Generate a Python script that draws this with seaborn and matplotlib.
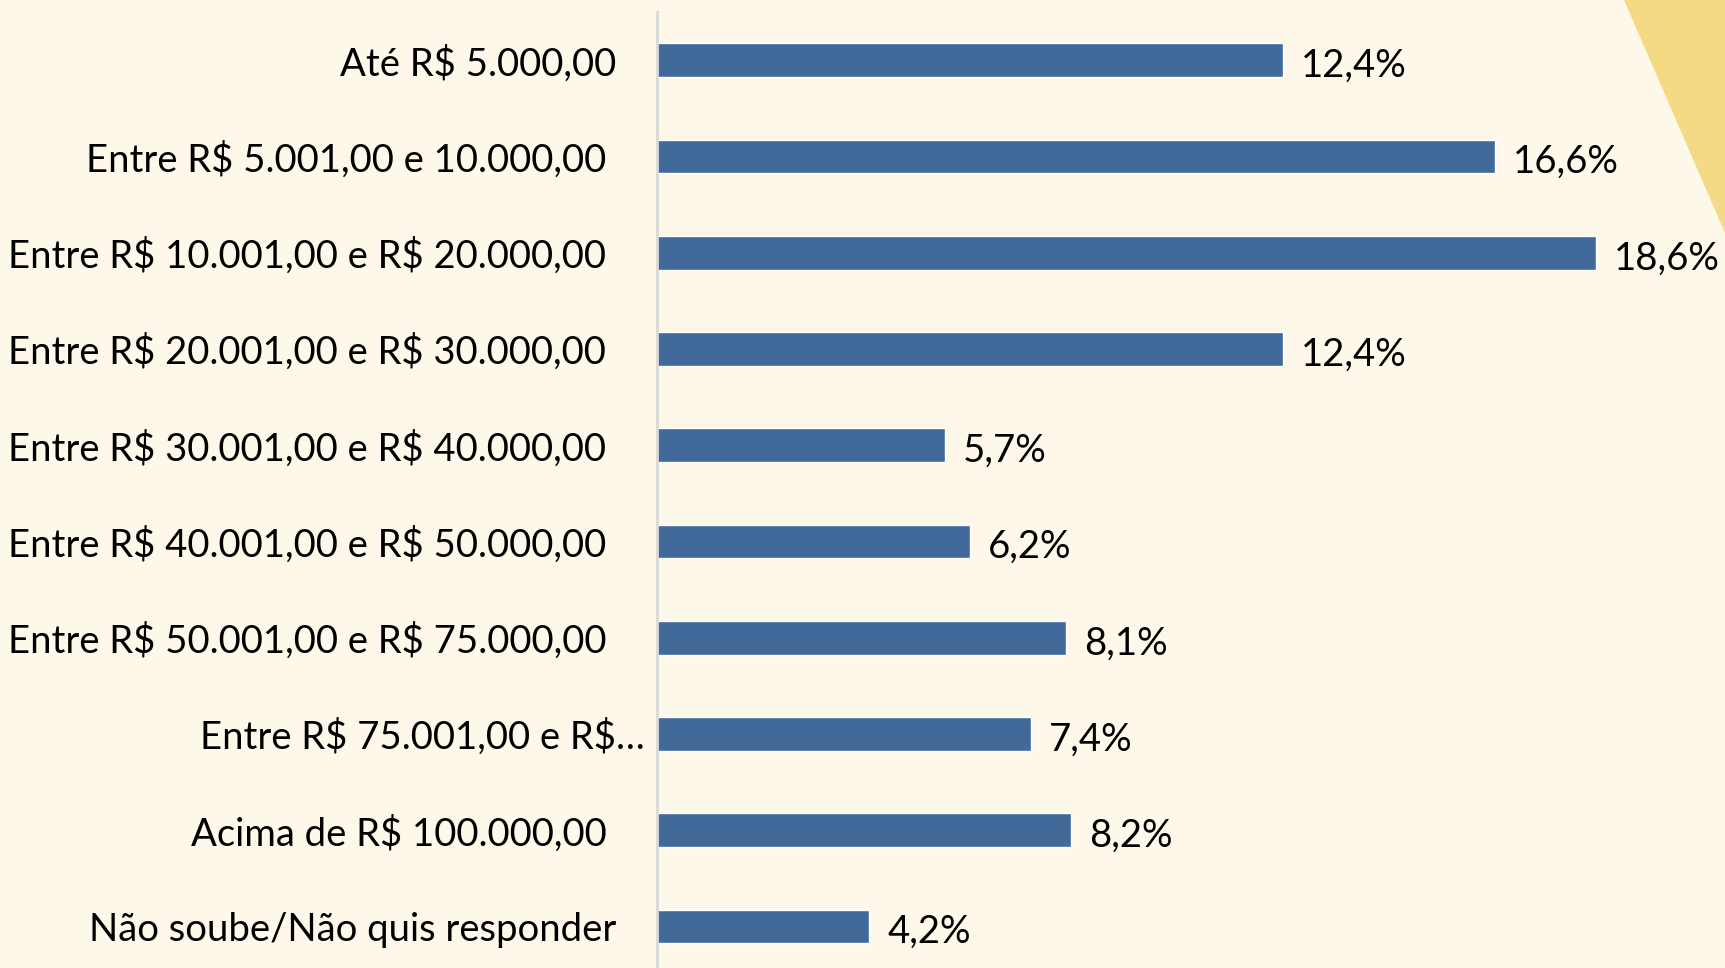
import numpy as np
import pandas as pd
import matplotlib.pyplot as plt
import seaborn as sns
from matplotlib.patches import Polygon
from matplotlib.transforms import ScaledTranslation

# Faixas de renda e percentuais
categories = [
    "Até R$ 5.000,00",
    "Entre R$ 5.001,00 e 10.000,00 ",
    "Entre R$ 10.001,00 e R$ 20.000,00 ",
    "Entre R$ 20.001,00 e R$ 30.000,00 ",
    "Entre R$ 30.001,00 e R$ 40.000,00 ",
    "Entre R$ 40.001,00 e R$ 50.000,00 ",
    "Entre R$ 50.001,00 e R$ 75.000,00 ",
    "Entre R$ 75.001,00 e R$…",
    "Acima de R$ 100.000,00 ",
    "Não soube/Não quis responder",
]
values = [12.4, 16.6, 18.6, 12.4, 5.7, 6.2, 8.1, 7.4, 8.2, 4.2]

BG = '#FDF8E9'
BAR = '#41699A'
TRI = '#F5DA85'

sns.set_theme(style='white')
plt.rcParams['font.family'] = ['Lato', 'DejaVu Sans']
plt.rcParams['text.parse_math'] = False  # "R$" nao e mathtext

df = pd.DataFrame({'faixa': categories, 'pct': values})

fig = plt.figure(figsize=(17.25, 9.68), dpi=100, facecolor=BG)

# triangulo amarelo no canto superior direito
fig.patches.append(Polygon([[1624 / 1725, 1], [1, 1], [1, 1 - 233 / 968]],
                           closed=True, transform=fig.transFigure,
                           facecolor=TRI, edgecolor='none', zorder=0))

ax = fig.add_axes([657 / 1725, 0, 1 - 657 / 1725, 1 - 12 / 968])
ax.set_facecolor('none')

sns.barplot(data=df, y='faixa', x='pct', orient='h', color=BAR,
            saturation=1, width=0.35, ax=ax)

txts = ax.bar_label(ax.containers[0],
                    labels=[f"{v:.1f}%".replace('.', ',') for v in values],
                    padding=13, fontsize=27.5, color='black')
# rotulos um pouco abaixo do centro da barra
for t in txts:
    dx, dy = t.xyann
    t.xyann = (dx, dy - 4)

ax.set_xlim(0, 21.15)
ax.set_ylim(9.43, -0.5)
ax.set_xlabel('')
ax.set_ylabel('')
ax.set_xticks([])

for s in ['top', 'right', 'bottom']:
    ax.spines[s].set_visible(False)
ax.spines['left'].set_color('#D9D9D9')
ax.spines['left'].set_linewidth(2)

ax.tick_params(axis='y', length=0, pad=29.5, labelsize=27.5, labelcolor='black')
# rotulo truncado fica mais a direita
for lbl in ax.get_yticklabels():
    if lbl.get_text().endswith('…'):
        lbl.set_transform(lbl.get_transform() + ScaledTranslation(0.29, 0, fig.dpi_scale_trans))

fig.savefig('out.png', dpi=100, facecolor=BG)
